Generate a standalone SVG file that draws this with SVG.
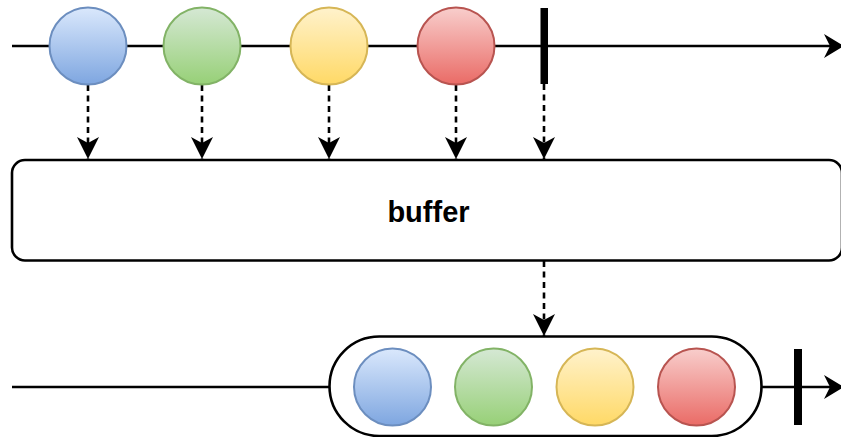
<svg xmlns="http://www.w3.org/2000/svg" width="841" height="437" viewBox="0 0 841 437">
  <defs>
    <linearGradient id="gBlue" x1="0" y1="0" x2="0" y2="1"><stop offset="0" stop-color="#dae8fc"/><stop offset="1" stop-color="#7ea6e0"/></linearGradient>
    <linearGradient id="gGreen" x1="0" y1="0" x2="0" y2="1"><stop offset="0" stop-color="#d5e8d4"/><stop offset="1" stop-color="#97d077"/></linearGradient>
    <linearGradient id="gYellow" x1="0" y1="0" x2="0" y2="1"><stop offset="0" stop-color="#fff2cc"/><stop offset="1" stop-color="#ffd966"/></linearGradient>
    <linearGradient id="gRed" x1="0" y1="0" x2="0" y2="1"><stop offset="0" stop-color="#f8cecc"/><stop offset="1" stop-color="#ea6b66"/></linearGradient>
    <marker id="arrSmall" markerUnits="userSpaceOnUse" markerWidth="22" markerHeight="22" viewBox="0 0 22 22" refX="22" refY="11" orient="auto">
      <path d="M0,0 L22,11 L0,22 L6,11 Z" fill="#000" stroke="none"/>
    </marker>
    <marker id="arrBig" markerUnits="userSpaceOnUse" markerWidth="20" markerHeight="24" viewBox="0 0 20 24" refX="20" refY="12" orient="auto">
      <path d="M0,0 L20,12 L0,24 L6,12 Z" fill="#000" stroke="none"/>
    </marker>
  </defs>
  <style>
    .line { stroke:#000; stroke-width:2.6; fill:none; }
    .dash { stroke:#000; stroke-width:2.6; fill:none; stroke-dasharray:6 4.5; }
    .box { fill:#fff; stroke:#000; stroke-width:2.6; }
    .bar { fill:#000; }
    .blue { fill:url(#gBlue); stroke:#6c8ebf; stroke-width:2; }
    .green { fill:url(#gGreen); stroke:#82b366; stroke-width:2; }
    .yellow { fill:url(#gYellow); stroke:#d6b656; stroke-width:2; }
    .red { fill:url(#gRed); stroke:#b85450; stroke-width:2; }
    .label { font-family:"Liberation Sans", Arial, sans-serif; font-weight:bold; font-size:29px; fill:#000; }
  </style>

  <g id="connectors">
    <line id="timeline-top" class="line" x1="12" y1="46" x2="844" y2="46" marker-end="url(#arrBig)"/>
    <line id="timeline-bottom-left" class="line" x1="12" y1="387" x2="329" y2="387"/>
    <line id="timeline-bottom-right" class="line" x1="762" y1="387" x2="844" y2="387" marker-end="url(#arrBig)"/>
    <line class="dash" x1="88" y1="85" x2="88" y2="159" marker-end="url(#arrSmall)"/>
    <line class="dash" x1="202" y1="85" x2="202" y2="159" marker-end="url(#arrSmall)"/>
    <line class="dash" x1="329" y1="85" x2="329" y2="159" marker-end="url(#arrSmall)"/>
    <line class="dash" x1="456" y1="85" x2="456" y2="159" marker-end="url(#arrSmall)"/>
    <line class="dash" x1="544" y1="84" x2="544" y2="159" marker-end="url(#arrSmall)"/>
    <line class="dash" x1="544" y1="261" x2="544" y2="336" marker-end="url(#arrSmall)"/>
  </g>

  <g id="source-blue"><circle class="blue" cx="88" cy="46" r="38.5"/></g>
  <g id="source-green"><circle class="green" cx="202" cy="46" r="38.5"/></g>
  <g id="source-yellow"><circle class="yellow" cx="329" cy="46" r="38.5"/></g>
  <g id="source-red"><circle class="red" cx="456" cy="46" r="38.5"/></g>
  <g id="source-complete"><rect class="bar" x="540.5" y="8" width="7.5" height="76"/></g>

  <g id="buffer">
    <rect class="box" x="12" y="160" width="830" height="100.5" rx="13" ry="13"/>
    <text class="label" x="428.5" y="222" text-anchor="middle">buffer</text>
  </g>

  <g id="output-buffer">
    <rect class="box" x="329.5" y="336.5" width="432" height="99.5" rx="49.75" ry="49.75"/>
    <circle class="blue" cx="392.5" cy="387" r="38.5"/>
    <circle class="green" cx="493.5" cy="387" r="38.5"/>
    <circle class="yellow" cx="595" cy="387" r="38.5"/>
    <circle class="red" cx="696.5" cy="387" r="38.5"/>
  </g>
  <g id="output-complete"><rect class="bar" x="794" y="349" width="8" height="76"/></g>
</svg>
